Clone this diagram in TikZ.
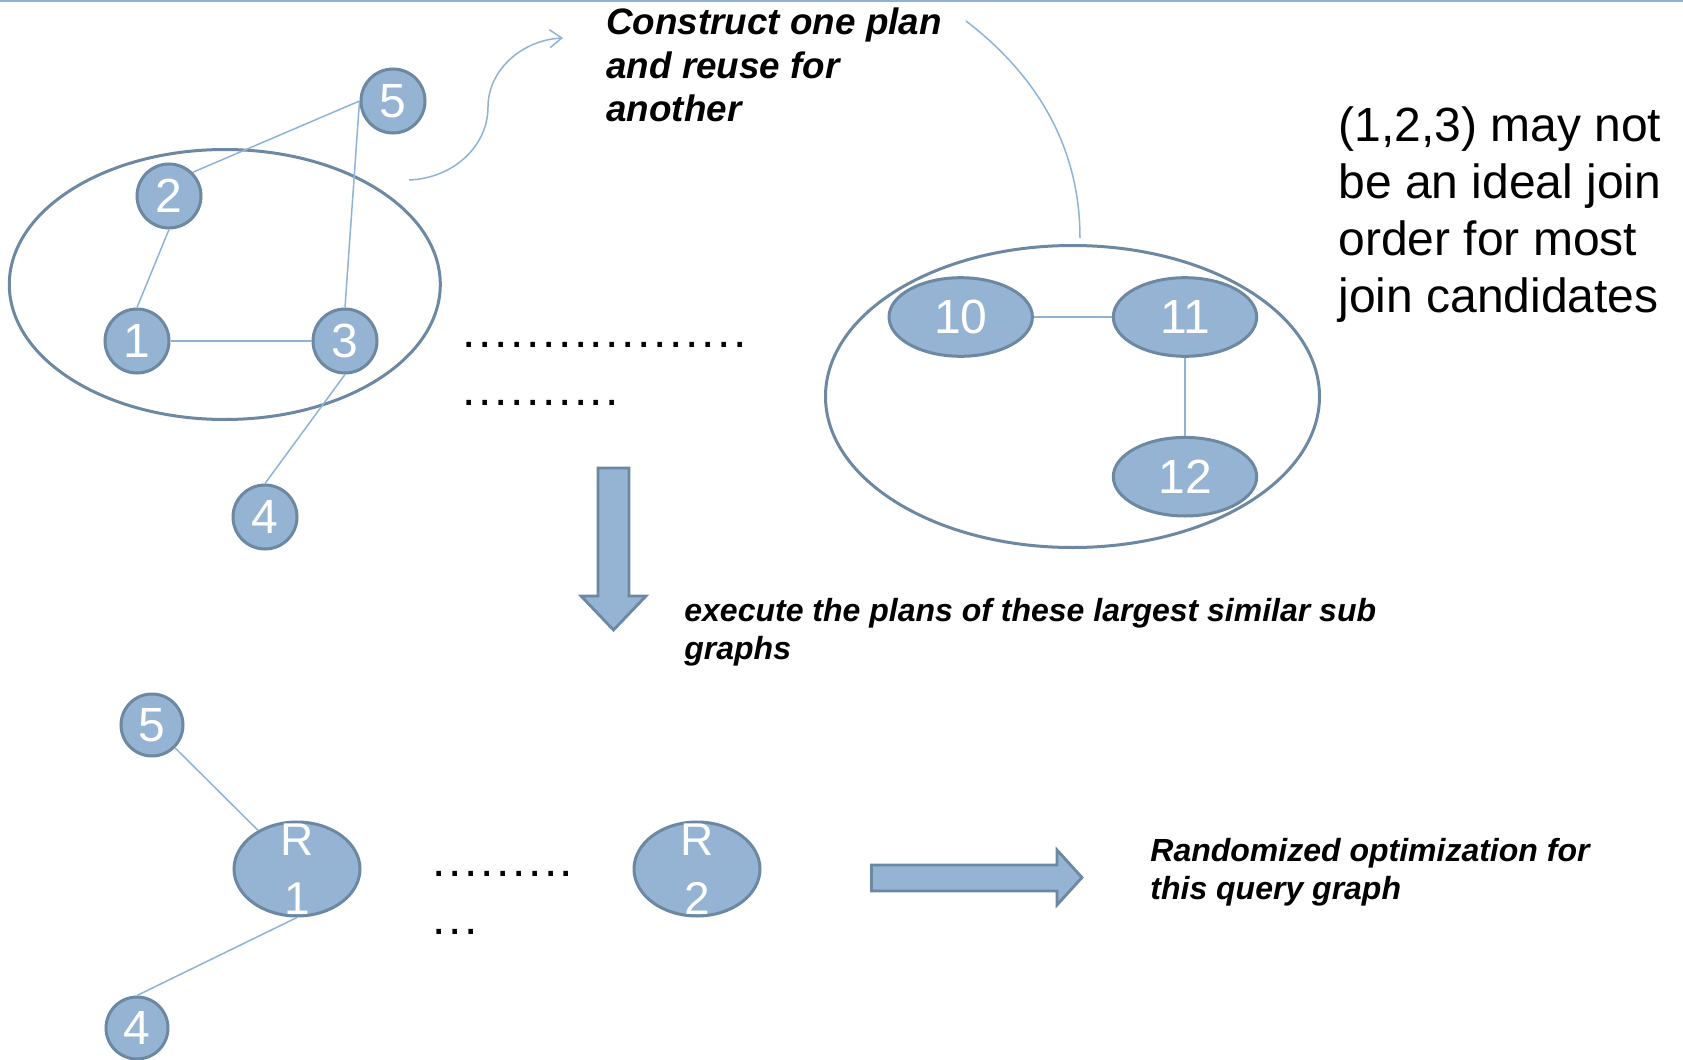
\documentclass[tikz,border=0pt]{standalone}
\usepackage{fontspec}
\setmainfont{Liberation Sans}
\usetikzlibrary{arrows.meta,shapes.geometric}
\definecolor{nodefill}{RGB}{149,179,210}
\definecolor{nodeline}{RGB}{108,136,162}
\definecolor{linkblue}{RGB}{143,179,214}
\newcommand\dotrun[1]{\foreach \k in {1,...,#1}{.\kern1.3pt}}

\begin{document}
\begin{tikzpicture}[
    x=0.5pt,y=-0.5pt,
    vertex/.style={circle,draw=nodeline,fill=nodefill,line width=1.5pt,minimum size=32pt,
        inner sep=0pt,text=white,font=\fontsize{24}{28.5}\selectfont},
    oval/.style={ellipse,draw=nodeline,fill=nodefill,line width=1.5pt,minimum width=71.7pt,
        minimum height=39.3pt,inner sep=0pt,text=white,font=\fontsize{24}{28.5}\selectfont},
    rnode/.style={oval,minimum width=63pt,minimum height=47pt},
    rlabel/.style={text=white,align=center,inner sep=0pt,font=\fontsize{23}{29.5}\selectfont},
    group/.style={ellipse,draw=nodeline,line width=1.5pt,inner sep=0pt},
    link/.style={draw=linkblue,line width=0.75pt},
    blockarrow/.style={draw=nodeline,fill=nodefill,line width=1.4pt,line join=miter},
    caption/.style={align=left,inner sep=0pt,font=\fontsize{16}{18.8}\selectfont\bfseries\itshape},
    note/.style={align=left,inner sep=0pt,font=\fontsize{24}{28.5}\selectfont},
    dotrow/.style={inner sep=0pt,anchor=base west,font=\fontsize{24}{28.5}\selectfont}
]
\useasboundingbox (0,0) rectangle (1683,1060);
\fill[white] (0,0) rectangle (1683,1060);
\draw[linkblue,line width=1.2pt] (0,1) -- (1683,1);

\node[group,minimum width=215.5pt,minimum height=135pt] (groupL) at (224.8,284.5) {};
\node[vertex] (v5) at (393,101) {5};
\node[vertex] (v2) at (169,196) {2};
\node[vertex] (v1) at (137,341) {1};
\node[vertex] (v3) at (345,341) {3};
\node[vertex] (v4) at (265,517) {4};
\draw[link] (v2.north east) -- (v5.west);
\draw[link] (v2.south) -- (v1.north);
\draw[link] (v1) -- (v3);
\draw[link] (v3.north) -- (v5.west);
\draw[link] (v3.south) -- (v4.north);

\node[group,minimum width=247pt,minimum height=151pt] (groupR) at (1072.5,396.5) {};
\node[oval] (o10) at (960.7,317) {10};
\node[oval] (o11) at (1185,317) {11};
\node[oval] (o12) at (1185,476.7) {12};
\draw[link] (o10) -- (o11);
\draw[link] (o11) -- (o12);

\node[caption,anchor=north west,font=\fontsize{18.4}{21.85}\selectfont\bfseries\itshape] (plan) at (606,7.5)
    {Construct one plan\\and reuse for\\another};
\coordinate (planFrom) at (409,180);
\coordinate (planTo) at (563,38);
\coordinate (planOut) at (966,21);
\coordinate (planIn) at (1080,238);
\draw[link,-{Straight Barb[length=6pt,width=9pt]}] (planFrom) .. controls (455,178) and (488,145) .. (488,107)
    .. controls (488,70) and (522,40) .. (planTo);
\draw[link] (planOut) .. controls (1030,70) and (1080,140) .. (planIn);

\node[note,anchor=north west] (remark) at (1338,106.5)
    {(1,2,3) may not\\be an ideal join\\order for most\\join candidates};

\node[dotrow] (dotsA) at (462,347) {\dotrun{18}};
\node[dotrow] (dotsB) at (462,405) {\dotrun{10}};

\draw[blockarrow] (598,468) -- (629,468) -- (629,596) -- (646,596) -- (613.5,630)
    -- (581,596) -- (598,596) -- cycle;
\node[caption,anchor=north west] (exec) at (684,598)
    {execute the plans of these largest similar sub\\graphs};

\node[vertex,minimum size=31pt] (b5) at (152,725) {5};
\node[rnode] (r1) at (297,869) {};
\node[rlabel] (r1text) at (r1) {R\\1};
\node[vertex,minimum size=31pt] (b4) at (137,1028) {4};
\draw[link] (b5) -- (r1);
\draw[link] (r1.south) -- (b4.north);

\node[dotrow] (dotsC) at (432,876) {\dotrun{9}};
\node[dotrow] (dotsD) at (432,934) {\dotrun{3}};

\node[rnode] (r2) at (697,869) {};
\node[rlabel] (r2text) at (r2) {R\\2};

\draw[blockarrow] (871.5,865) -- (1057,865) -- (1057,850) -- (1082,877.5) -- (1057,905)
    -- (1057,891) -- (871.5,891) -- cycle;
\node[caption,anchor=north west] (rand) at (1150,838)
    {Randomized optimization for\\this query graph};
\end{tikzpicture}
\end{document}
